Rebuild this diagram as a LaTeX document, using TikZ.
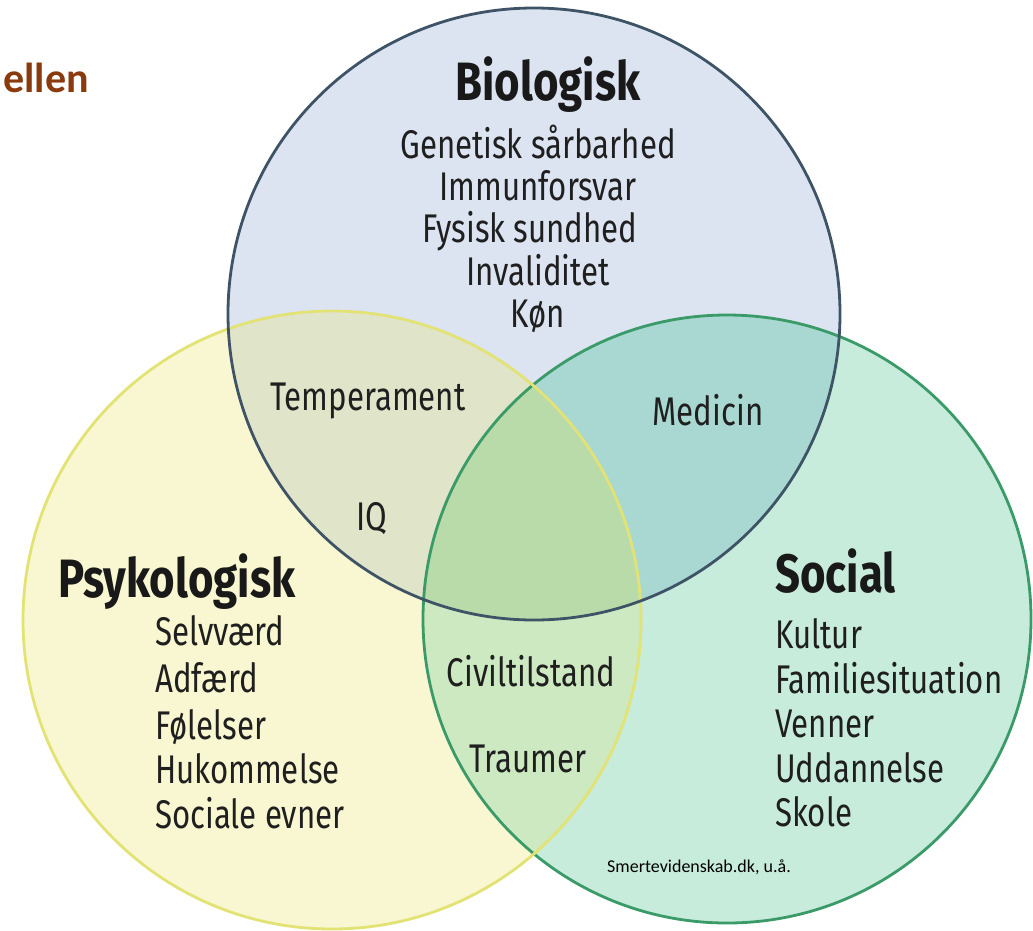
\documentclass[tikz,border=0pt]{standalone}
\usepackage{fontspec}
\newfontfamily\cond[FakeStretch=0.78]{Fira Sans}
\newfontfamily\condb[FakeStretch=0.81]{Fira Sans}
\newfontfamily\calib{Carlito}
\definecolor{bfill}{HTML}{DCE4F2}
\definecolor{yfill}{HTML}{F8F7D1}
\definecolor{gfill}{HTML}{C8ECDB}
\definecolor{byfill}{HTML}{E0E4C9}
\definecolor{bgfill}{HTML}{A8D8D1}
\definecolor{ygfill}{HTML}{CDE9C1}
\definecolor{bygfill}{HTML}{B9DBAA}
\definecolor{bline}{HTML}{3E5466}
\definecolor{yline}{HTML}{E2E374}
\definecolor{gline}{HTML}{3A9A68}
\definecolor{brownt}{HTML}{8A3B0E}
\tikzset{
  item/.style={font=\cond\fontsize{40}{44}\selectfont, text=black!88, inner sep=0pt},
  ttl/.style={font=\condb\bfseries\fontsize{54}{58}\selectfont, text=black!90, inner sep=0pt},
  ring/.style={line width=2.8pt}
}
\begin{document}
\begin{tikzpicture}[x=1pt,y=-1pt]
\useasboundingbox (0,0) rectangle (1033,930);
\fill[white] (0,0) rectangle (1033,930);
\coordinate (cb) at (534,314);
\coordinate (cy) at (332,620);
\coordinate (cg) at (727,619);
\def\rb{306pt}\def\ry{309pt}\def\rg{304pt}
% base fills
\fill[yfill] (cy) circle[radius=\ry];
\fill[gfill] (cg) circle[radius=\rg];
\fill[bfill] (cb) circle[radius=\rb];
\begin{scope}\clip (cb) circle[radius=\rb]; \fill[byfill] (cy) circle[radius=\ry];\end{scope}
\begin{scope}\clip (cb) circle[radius=\rb]; \fill[bgfill] (cg) circle[radius=\rg];\end{scope}
\begin{scope}\clip (cy) circle[radius=\ry]; \fill[ygfill] (cg) circle[radius=\rg];\end{scope}
\begin{scope}\clip (cb) circle[radius=\rb]; \clip (cy) circle[radius=\ry]; \fill[bygfill] (cg) circle[radius=\rg];\end{scope}
% outlines
\draw[ring, gline] (cg) circle[radius=\rg];
\draw[ring, yline] (cy) circle[radius=\ry];
\draw[ring, bline] (cb) circle[radius=\rb];
% title fragment
\node[anchor=base east, inner sep=0pt, text=brownt, font=\calib\bfseries\fontsize{42}{46}\selectfont] (head) at (89,92) {ellen};
% Biologisk
\node[ttl, anchor=base] (bio) at (548,100) {Biologisk};
\node[item, anchor=base] (b1) at (538,158) {Genetisk sårbarhed};
\node[item, anchor=base] (b2) at (538,200) {Immunforsvar};
\node[item, anchor=base] (b3) at (530,242) {Fysisk sundhed};
\node[item, anchor=base] (b4) at (538,285) {Invaliditet};
\node[item, anchor=base] (b5) at (538,327) {Køn};
% overlaps
\node[item, anchor=base] (temp) at (368,410) {Temperament};
\node[item, anchor=base] (med) at (708,425) {Medicin};
\node[item, anchor=base] (iq) at (372,530) {IQ};
\node[item, anchor=base] (civ) at (531,686) {Civiltilstand};
\node[item, anchor=base] (trau) at (528,772) {Traumer};
% Psykologisk
\node[ttl, anchor=base west] (psy) at (58,597) {Psykologisk};
\node[item, anchor=base west] (p1) at (155,645) {Selvværd};
\node[item, anchor=base west] (p2) at (155,692) {Adfærd};
\node[item, anchor=base west] (p3) at (155,739) {Følelser};
\node[item, anchor=base west] (p4) at (155,783) {Hukommelse};
\node[item, anchor=base west] (p5) at (155,828) {Sociale evner};
% Social
\node[ttl, anchor=base west] (soc) at (775,592) {Social};
\node[item, anchor=base west] (s1) at (775,648) {Kultur};
\node[item, anchor=base west] (s2) at (775,693) {Familiesituation};
\node[item, anchor=base west] (s3) at (775,737) {Venner};
\node[item, anchor=base west] (s4) at (775,782) {Uddannelse};
\node[item, anchor=base west] (s5) at (775,826) {Skole};
% source
\node[anchor=base west, inner sep=0pt, font=\calib\fontsize{18}{20}\selectfont] (src) at (607,872) {Smertevidenskab.dk, u.å.};
\end{tikzpicture}
\end{document}
